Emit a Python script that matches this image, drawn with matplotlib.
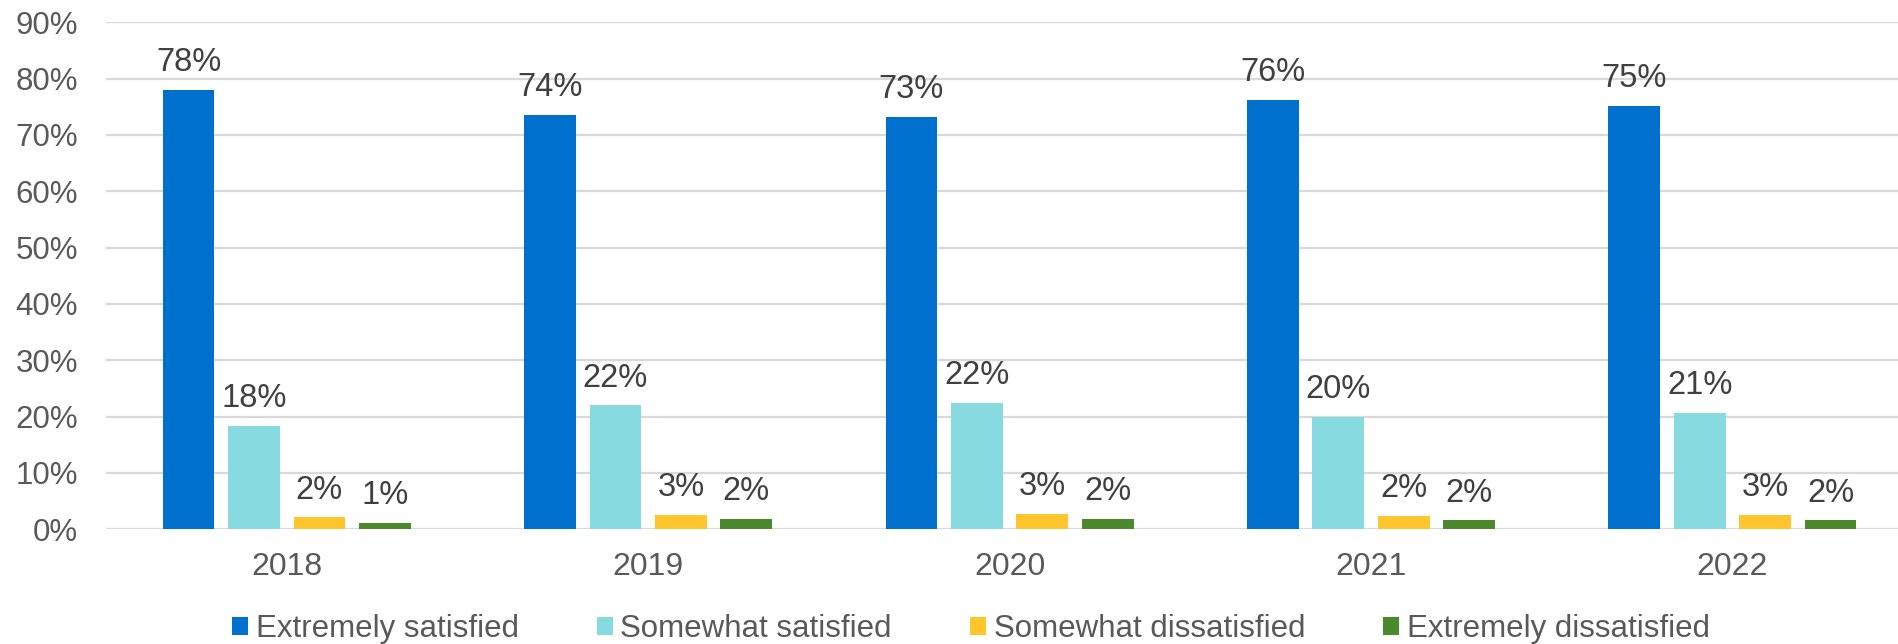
import matplotlib
matplotlib.use("Agg")
import matplotlib.pyplot as plt
import numpy as np

years = ["2018", "2019", "2020", "2021", "2022"]
series_names = ["Extremely satisfied", "Somewhat satisfied",
                "Somewhat dissatisfied", "Extremely dissatisfied"]
extremely_satisfied = [78.0, 73.6, 73.2, 76.2, 75.2]
somewhat_satisfied = [18.4, 22.0, 22.4, 20.0, 20.7]
somewhat_dissatisfied = [2.1, 2.6, 2.8, 2.4, 2.6]
extremely_dissatisfied = [1.2, 1.8, 1.8, 1.6, 1.6]
y_ticks = [0, 10, 20, 30, 40, 50, 60, 70, 80, 90]

series = [extremely_satisfied, somewhat_satisfied,
          somewhat_dissatisfied, extremely_dissatisfied]
colors = ["#0070CE", "#87DADF", "#FFC52C", "#4A8A2C"]

plt.rcParams['font.family'] = ['Liberation Sans', 'DejaVu Sans']

fig = plt.figure(figsize=(18.98, 6.44), dpi=100)
ax = fig.add_axes([106/1898, 114.7/644, 1 - 106/1898, (529.3-22.3)/644])

x = np.arange(len(years))
pitch = 0.181
width = 0.143
for i, (vals, col, name) in enumerate(zip(series, colors, series_names)):
    pos = x + (i - 1.5) * pitch
    bars = ax.bar(pos, vals, width=width, color=col, label=name, zorder=3)
    for b, v in zip(bars, vals):
        ax.annotate(f"{round(v)}%", (b.get_x() + b.get_width()/2, v),
                    xytext=(0, 13.5), textcoords="offset points",
                    ha="center", va="baseline", fontsize=23.5, color="#404040")

ax.set_ylim(0, 90)
ax.set_xlim(-0.5, 4.458)
ax.set_yticks(y_ticks)
ax.set_yticklabels([f"{t}%" for t in y_ticks])
ax.set_xticks(x)
ax.set_xticklabels(years)
ax.tick_params(axis='y', length=0, pad=20, labelsize=22.5, labelcolor="#595959")
ax.tick_params(axis='x', length=0, pad=16.5, labelsize=23, labelcolor="#595959")
ax.grid(axis='y', color="#D9D9D9", linewidth=1.6, zorder=0)
for s in ax.spines.values():
    s.set_visible(False)

leg = fig.legend(loc="center", bbox_to_anchor=(0.5116, 0.0235), ncol=4,
                 frameon=False, fontsize=22.5, handlelength=0.51, handleheight=0.51,
                 handletextpad=0.24, columnspacing=2.5, labelcolor="#595959")

fig.savefig("out.png", dpi=100)
